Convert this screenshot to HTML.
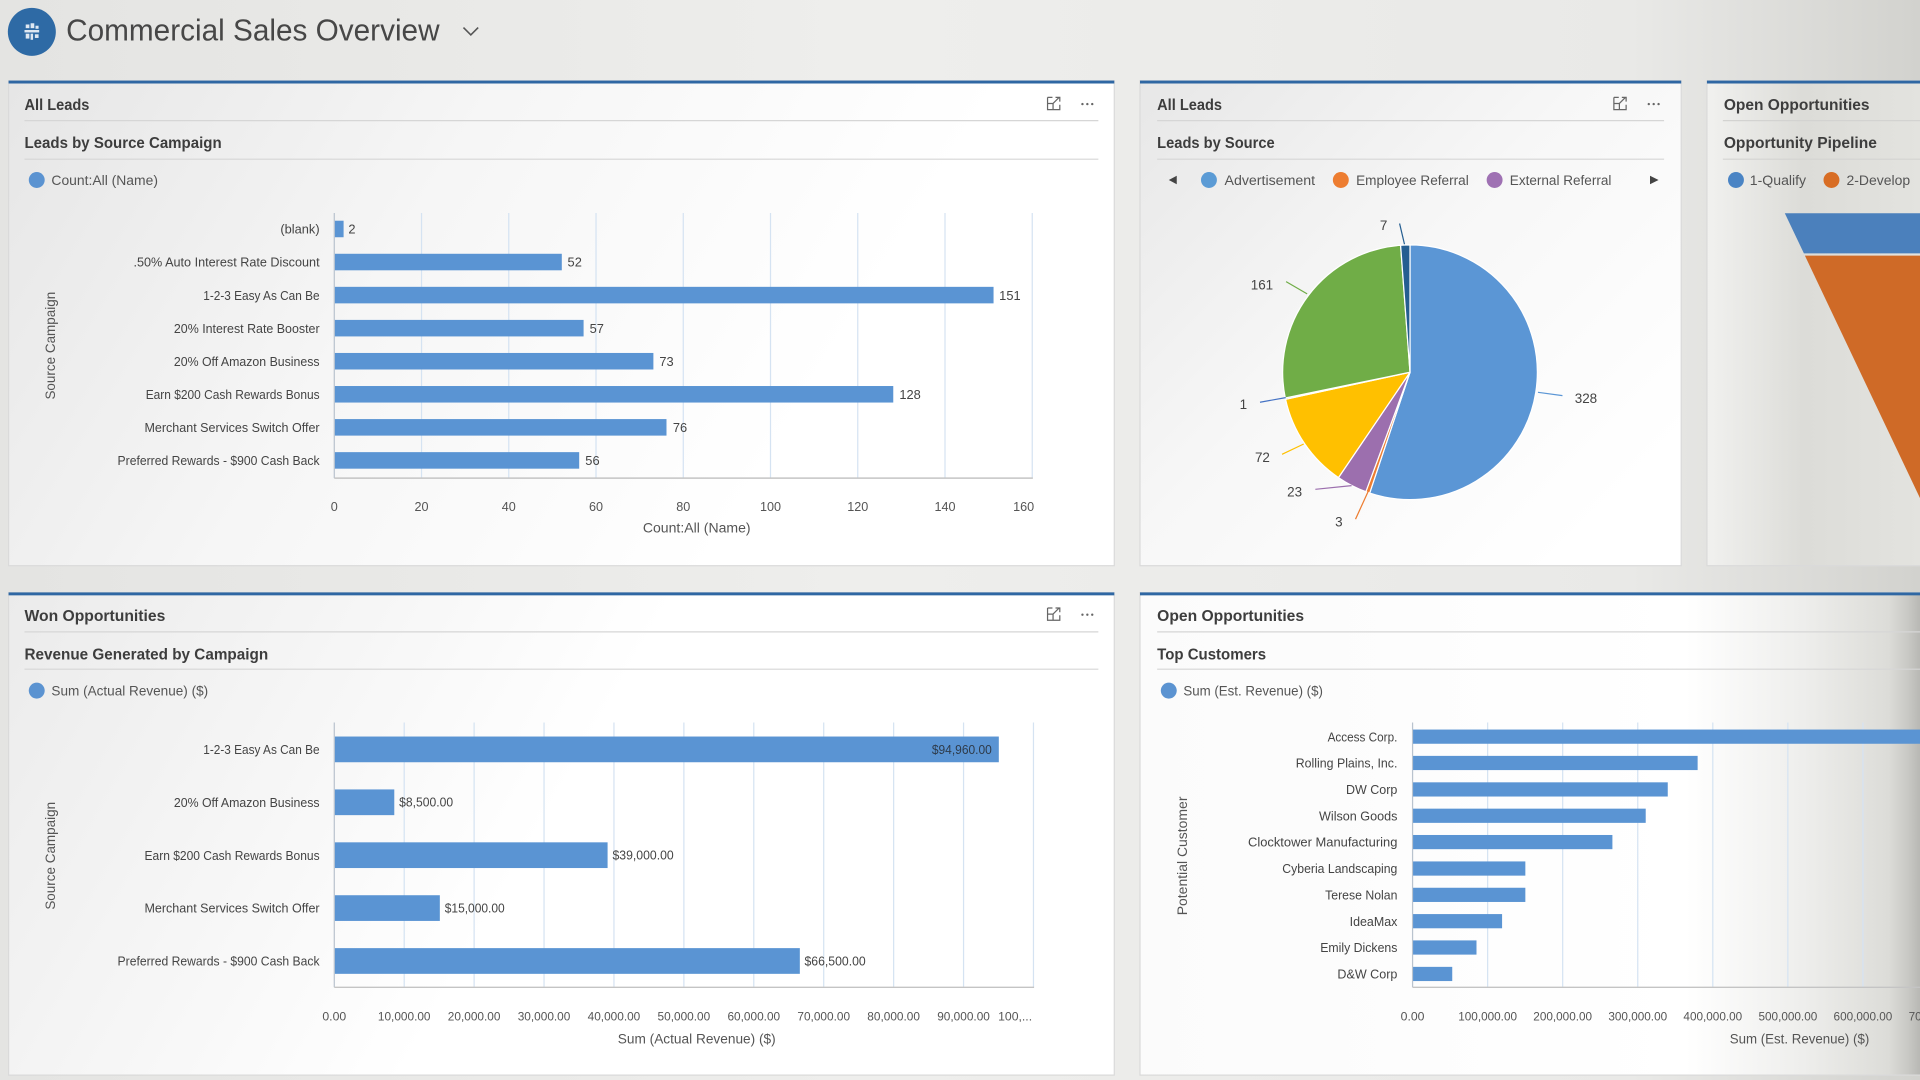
<!DOCTYPE html>
<html><head><meta charset="utf-8">
<style>
html,body{margin:0;padding:0;width:1920px;height:1080px;overflow:hidden;background:#e8e8e6;}
svg{display:block}
text{font-family:"Liberation Sans",sans-serif;}
.t{font-size:13px;font-weight:bold;fill:#3d3d3d}
.lg{font-size:11px;fill:#555}
.c{font-size:10.8px;fill:#444;text-anchor:end}
.k{font-size:10.3px;fill:#555;text-anchor:middle}
.kk{font-size:10px;fill:#555;text-anchor:middle}
.a{font-size:11px;fill:#555;text-anchor:middle}
.v{font-size:10.5px;fill:#444}
.pl{font-size:11px;fill:#444;text-anchor:middle}
.g{stroke:#d5e3f2;stroke-width:1}
</style></head><body>
<svg width="1920" height="1080" viewBox="0 0 1568 882" preserveAspectRatio="none">
<defs>
<linearGradient id="bg" x1="0" y1="0" x2="1" y2="0">
<stop offset="0" stop-color="#e4e4e2"/><stop offset="0.45" stop-color="#eeeeec"/><stop offset="0.85" stop-color="#e9e9e7"/><stop offset="1" stop-color="#d2d2ce"/>
</linearGradient>
<linearGradient id="gp1" gradientUnits="userSpaceOnUse" x1="7" y1="66" x2="600" y2="430">
<stop offset="0" stop-color="#e6e6e6"/><stop offset="0.5" stop-color="#f6f6f6"/><stop offset="1" stop-color="#ffffff"/>
</linearGradient>
<linearGradient id="gp2" gradientUnits="userSpaceOnUse" x1="931" y1="66" x2="1300" y2="430">
<stop offset="0" stop-color="#e7e7e7"/><stop offset="0.5" stop-color="#f7f7f7"/><stop offset="1" stop-color="#ffffff"/>
</linearGradient>
<linearGradient id="gp3" gradientUnits="userSpaceOnUse" x1="1394" y1="0" x2="1568" y2="0">
<stop offset="0" stop-color="#f1f1ef"/><stop offset="0.45" stop-color="#dcdcd8"/><stop offset="1" stop-color="#e3e3df"/>
</linearGradient>
<linearGradient id="gp4" gradientUnits="userSpaceOnUse" x1="7" y1="484" x2="420" y2="720">
<stop offset="0" stop-color="#ebebeb"/><stop offset="1" stop-color="#ffffff"/>
</linearGradient>
<linearGradient id="gp5" gradientUnits="userSpaceOnUse" x1="931" y1="0" x2="1568" y2="0">
<stop offset="0" stop-color="#fbfbfb"/><stop offset="0.7" stop-color="#ffffff"/><stop offset="0.85" stop-color="#eeeeec"/><stop offset="0.96" stop-color="#dcdcd8"/><stop offset="0.985" stop-color="#c8c8c4"/><stop offset="1" stop-color="#b8b8b4"/>
</linearGradient>
</defs>

<!-- page background -->
<rect x="0" y="0" width="1568" height="882" fill="url(#bg)"/>

<!-- header -->
<circle cx="26" cy="26" r="19.6" fill="#2e6aa5"/>
<g fill="#dfe8f2">
<rect x="21" y="20" width="3" height="3"/><rect x="25" y="19" width="3" height="4"/><rect x="29" y="21" width="2.5" height="2.5"/>
<rect x="20" y="24.5" width="12" height="2"/>
<rect x="21" y="27.5" width="3" height="4"/><rect x="25" y="27.5" width="2" height="5"/><rect x="28.5" y="28" width="3" height="3"/>
</g>
<text x="54" y="33.2" font-size="25" fill="#474747" textLength="305" lengthAdjust="spacingAndGlyphs">Commercial Sales Overview</text>
<polyline points="378.5,22.5 384.5,28.5 390.5,22.5" fill="none" stroke="#555" stroke-width="1.3"/>

<!-- ============ PANEL 1 ============ -->
<rect x="7" y="66" width="903" height="396" fill="url(#gp1)" stroke="#dadada" stroke-width="1"/>
<rect x="7" y="65.8" width="903" height="2.4" fill="#2f67a3"/>
<text class="t" x="20" y="89.8" textLength="53" lengthAdjust="spacingAndGlyphs">All Leads</text>
<line x1="20" y1="98.5" x2="897" y2="98.5" stroke="#d6d6d6"/>
<text class="t" x="20" y="121" textLength="161" lengthAdjust="spacingAndGlyphs">Leads by Source Campaign</text>
<line x1="20" y1="130" x2="897" y2="130" stroke="#d6d6d6"/>
<g stroke="#666" stroke-width="1" fill="none">
<path d="M855.5 79.5 v10 h10 v-4 M855.5 79.5 h4 M855.5 84.5 h4.5 v5 M860 84.5 l5 -5 M862 79.5 h3.5 v3.5"/>
</g>
<g fill="#666"><circle cx="884" cy="85" r="0.95"/><circle cx="888" cy="85" r="0.95"/><circle cx="892" cy="85" r="0.95"/></g>
<circle cx="30" cy="147" r="6.5" fill="#5b93d1"/>
<text class="lg" x="42" y="151" textLength="87" lengthAdjust="spacingAndGlyphs">Count:All (Name)</text>

<!-- chart 1 grid -->
<g class="g">
<line x1="344.25" y1="174" x2="344.25" y2="390"/><line x1="415.5" y1="174" x2="415.5" y2="390"/>
<line x1="486.75" y1="174" x2="486.75" y2="390"/><line x1="558" y1="174" x2="558" y2="390"/>
<line x1="629.25" y1="174" x2="629.25" y2="390"/><line x1="700.5" y1="174" x2="700.5" y2="390"/>
<line x1="771.75" y1="174" x2="771.75" y2="390"/><line x1="843" y1="174" x2="843" y2="390"/>
</g>
<line x1="273" y1="174" x2="273" y2="390.5" stroke="#b9c3ce" stroke-width="1"/>
<line x1="273" y1="390.5" x2="843.5" y2="390.5" stroke="#c4c4c4" stroke-width="1.2"/>
<g fill="#5a94d3">
<rect x="273.5" y="180.25" width="7.1" height="13.5"/>
<rect x="273.5" y="207.25" width="185.3" height="13.5"/>
<rect x="273.5" y="234.25" width="537.9" height="13.5"/>
<rect x="273.5" y="261.25" width="203.1" height="13.5"/>
<rect x="273.5" y="288.25" width="260.1" height="13.5"/>
<rect x="273.5" y="315.25" width="456" height="13.5"/>
<rect x="273.5" y="342.25" width="270.8" height="13.5"/>
<rect x="273.5" y="369.25" width="199.5" height="13.5"/>
</g>
<text class="c" x="261" y="190.8" textLength="32" lengthAdjust="spacingAndGlyphs">(blank)</text>
<text class="c" x="261" y="217.8" textLength="152" lengthAdjust="spacingAndGlyphs">.50% Auto Interest Rate Discount</text>
<text class="c" x="261" y="244.8" textLength="95" lengthAdjust="spacingAndGlyphs">1-2-3 Easy As Can Be</text>
<text class="c" x="261" y="271.8" textLength="119" lengthAdjust="spacingAndGlyphs">20% Interest Rate Booster</text>
<text class="c" x="261" y="298.8" textLength="119" lengthAdjust="spacingAndGlyphs">20% Off Amazon Business</text>
<text class="c" x="261" y="325.8" textLength="142" lengthAdjust="spacingAndGlyphs">Earn $200 Cash Rewards Bonus</text>
<text class="c" x="261" y="352.8" textLength="143" lengthAdjust="spacingAndGlyphs">Merchant Services Switch Offer</text>
<text class="c" x="261" y="379.8" textLength="165" lengthAdjust="spacingAndGlyphs">Preferred Rewards - $900 Cash Back</text>
<text class="v" x="284.5" y="190.8">2</text>
<text class="v" x="463.5" y="217.8">52</text>
<text class="v" x="816" y="244.8">151</text>
<text class="v" x="481.5" y="271.8">57</text>
<text class="v" x="538.5" y="298.8">73</text>
<text class="v" x="734.5" y="325.8">128</text>
<text class="v" x="549.5" y="352.8">76</text>
<text class="v" x="478" y="379.8">56</text>
<text class="k" x="273" y="417.5">0</text>
<text class="k" x="344.25" y="417.5">20</text>
<text class="k" x="415.5" y="417.5">40</text>
<text class="k" x="486.75" y="417.5">60</text>
<text class="k" x="558" y="417.5">80</text>
<text class="k" x="629.25" y="417.5">100</text>
<text class="k" x="700.5" y="417.5">120</text>
<text class="k" x="771.75" y="417.5">140</text>
<text class="k" x="836" y="417.5">160</text>
<text class="a" x="569" y="435" textLength="88" lengthAdjust="spacingAndGlyphs">Count:All (Name)</text>
<text class="a" transform="translate(45,282.3) rotate(-90)" textLength="88" lengthAdjust="spacingAndGlyphs">Source Campaign</text>

<!-- ============ PANEL 2 (pie) ============ -->
<rect x="931" y="66" width="442" height="396" fill="url(#gp2)" stroke="#dadada" stroke-width="1"/>
<rect x="931" y="65.8" width="442" height="2.4" fill="#2f67a3"/>
<text class="t" x="945" y="89.8" textLength="53" lengthAdjust="spacingAndGlyphs">All Leads</text>
<line x1="945" y1="98.5" x2="1359" y2="98.5" stroke="#d6d6d6"/>
<text class="t" x="945" y="121" textLength="96" lengthAdjust="spacingAndGlyphs">Leads by Source</text>
<line x1="945" y1="130" x2="1359" y2="130" stroke="#d6d6d6"/>
<g stroke="#666" stroke-width="1" fill="none">
<path d="M1318 79.5 v10 h10 v-4 M1318 79.5 h4 M1318 84.5 h4.5 v5 M1322.5 84.5 l5 -5 M1324.5 79.5 h3.5 v3.5"/>
</g>
<g fill="#666"><circle cx="1346.5" cy="85" r="0.95"/><circle cx="1350.5" cy="85" r="0.95"/><circle cx="1354.5" cy="85" r="0.95"/></g>
<polygon points="954.5,147 961,143.5 961,150.5" fill="#444"/>
<circle cx="987.3" cy="147" r="6.5" fill="#5b9bd5"/>
<text class="lg" x="1000" y="151" textLength="74" lengthAdjust="spacingAndGlyphs">Advertisement</text>
<circle cx="1095" cy="147" r="6.5" fill="#ed7d31"/>
<text class="lg" x="1107.5" y="151" textLength="92" lengthAdjust="spacingAndGlyphs">Employee Referral</text>
<circle cx="1220.6" cy="147" r="6.5" fill="#9f71b3"/>
<text class="lg" x="1233" y="151" textLength="83" lengthAdjust="spacingAndGlyphs">External Referral</text>
<polygon points="1347.5,143.5 1354.5,147 1347.5,150.5" fill="#444"/>

<!-- pie -->
<g stroke="#fff" stroke-width="1" stroke-linejoin="round">
<path d="M1151.5 304 L1151.5 200 A104 104 0 1 1 1118.58 402.65 Z" fill="#5b96d5"/>
<path d="M1151.5 304 L1118.58 402.65 A104 104 0 0 1 1115.47 401.56 Z" fill="#ed7d31"/>
<path d="M1151.5 304 L1115.47 401.56 A104 104 0 0 1 1093.07 390.04 Z" fill="#9c6fae"/>
<path d="M1151.5 304 L1093.07 390.04 A104 104 0 0 1 1049.87 326.07 Z" fill="#ffc000"/>
<path d="M1151.5 304 L1049.87 326.07 A104 104 0 0 1 1049.64 324.99 Z" fill="#4472c4"/>
<path d="M1151.5 304 L1049.64 324.99 A104 104 0 0 1 1143.82 200.28 Z" fill="#70ad47"/>
<path d="M1151.5 304 L1143.82 200.28 A104 104 0 0 1 1151.5 200 Z" fill="#255e91"/>
</g>
<g fill="none" stroke-width="1">
<line x1="1143" y1="182.5" x2="1147" y2="199.5" stroke="#255e91"/>
<line x1="1050.3" y1="230" x2="1067.5" y2="240" stroke="#70ad47"/>
<line x1="1029" y1="328.5" x2="1050" y2="324.7" stroke="#4472c4"/>
<line x1="1047" y1="371" x2="1064.7" y2="362.6" stroke="#ffc000"/>
<line x1="1074.2" y1="399.6" x2="1103.8" y2="396.6" stroke="#9c6fae"/>
<line x1="1107" y1="424" x2="1117.5" y2="401" stroke="#ed7d31"/>
<line x1="1256" y1="320.4" x2="1276" y2="323.1" stroke="#5b96d5"/>
</g>
<text class="pl" x="1130" y="188">7</text>
<text class="pl" x="1030.6" y="236.5">161</text>
<text class="pl" x="1015.4" y="334">1</text>
<text class="pl" x="1031" y="377.5">72</text>
<text class="pl" x="1057.3" y="405.6">23</text>
<text class="pl" x="1093.4" y="430">3</text>
<text class="pl" x="1295.2" y="329">328</text>

<!-- ============ PANEL 3 (funnel) ============ -->
<rect x="1394" y="66" width="180" height="396" fill="url(#gp3)" stroke="#dadada" stroke-width="1"/>
<rect x="1394" y="65.8" width="180" height="2.4" fill="#2f67a3"/>
<text class="t" x="1407.8" y="89.8" textLength="119" lengthAdjust="spacingAndGlyphs">Open Opportunities</text>
<line x1="1407" y1="98.5" x2="1568" y2="98.5" stroke="#d3d3d1"/>
<text class="t" x="1407.8" y="121" textLength="125" lengthAdjust="spacingAndGlyphs">Opportunity Pipeline</text>
<line x1="1407" y1="130" x2="1568" y2="130" stroke="#d3d3d1"/>
<circle cx="1417.7" cy="147" r="6.5" fill="#4a84c4"/>
<text class="lg" x="1429" y="151" textLength="46" lengthAdjust="spacingAndGlyphs">1-Qualify</text>
<circle cx="1495.7" cy="147" r="6.5" fill="#d86d24"/>
<text class="lg" x="1508" y="151" textLength="52" lengthAdjust="spacingAndGlyphs">2-Develop</text>
<polygon points="1457.6,174.2 1570,174.2 1570,206.9 1473.2,206.9" fill="#4b80bc"/>
<polygon points="1474,208.8 1570,208.8 1570,411" fill="#cf6a27"/>

<!-- ============ PANEL 4 ============ -->
<rect x="7" y="484" width="903" height="394" fill="url(#gp4)" stroke="#dadada" stroke-width="1"/>
<rect x="7" y="483.8" width="903" height="2.4" fill="#2f67a3"/>
<text class="t" x="20" y="507.3" textLength="115" lengthAdjust="spacingAndGlyphs">Won Opportunities</text>
<line x1="20" y1="516" x2="897" y2="516" stroke="#d6d6d6"/>
<text class="t" x="20" y="538.6" textLength="199" lengthAdjust="spacingAndGlyphs">Revenue Generated by Campaign</text>
<line x1="20" y1="546.5" x2="897" y2="546.5" stroke="#d6d6d6"/>
<g stroke="#666" stroke-width="1" fill="none">
<path d="M855.5 496.5 v10 h10 v-4 M855.5 496.5 h4 M855.5 501.5 h4.5 v5 M860 501.5 l5 -5 M862 496.5 h3.5 v3.5"/>
</g>
<g fill="#666"><circle cx="884" cy="502" r="0.95"/><circle cx="888" cy="502" r="0.95"/><circle cx="892" cy="502" r="0.95"/></g>
<circle cx="30" cy="564" r="6.5" fill="#5b93d1"/>
<text class="lg" x="42" y="568" textLength="128" lengthAdjust="spacingAndGlyphs">Sum (Actual Revenue) ($)</text>

<g class="g">
<line x1="330.1" y1="590" x2="330.1" y2="806"/><line x1="387.2" y1="590" x2="387.2" y2="806"/>
<line x1="444.3" y1="590" x2="444.3" y2="806"/><line x1="501.4" y1="590" x2="501.4" y2="806"/>
<line x1="558.5" y1="590" x2="558.5" y2="806"/><line x1="615.6" y1="590" x2="615.6" y2="806"/>
<line x1="672.7" y1="590" x2="672.7" y2="806"/><line x1="729.8" y1="590" x2="729.8" y2="806"/>
<line x1="786.9" y1="590" x2="786.9" y2="806"/><line x1="844" y1="590" x2="844" y2="806"/>
</g>
<line x1="273" y1="590" x2="273" y2="806.3" stroke="#b9c3ce" stroke-width="1"/>
<line x1="273" y1="806.3" x2="844.5" y2="806.3" stroke="#c4c4c4" stroke-width="1.2"/>
<g fill="#5a94d3">
<rect x="273.5" y="601.5" width="542.2" height="21"/>
<rect x="273.5" y="644.7" width="48.5" height="21"/>
<rect x="273.5" y="687.9" width="222.7" height="21"/>
<rect x="273.5" y="731.1" width="85.7" height="21"/>
<rect x="273.5" y="774.3" width="379.7" height="21"/>
</g>
<text class="c" x="261" y="615.8" textLength="95" lengthAdjust="spacingAndGlyphs">1-2-3 Easy As Can Be</text>
<text class="c" x="261" y="659" textLength="119" lengthAdjust="spacingAndGlyphs">20% Off Amazon Business</text>
<text class="c" x="261" y="702.2" textLength="143" lengthAdjust="spacingAndGlyphs">Earn $200 Cash Rewards Bonus</text>
<text class="c" x="261" y="745.4" textLength="143" lengthAdjust="spacingAndGlyphs">Merchant Services Switch Offer</text>
<text class="c" x="261" y="788.6" textLength="165" lengthAdjust="spacingAndGlyphs">Preferred Rewards - $900 Cash Back</text>
<text class="v" x="810" y="615.6" text-anchor="end" fill="#2e3b4a" style="fill:#2e3b4a" textLength="49" lengthAdjust="spacingAndGlyphs">$94,960.00</text>
<text class="v" x="326" y="658.8" textLength="44" lengthAdjust="spacingAndGlyphs">$8,500.00</text>
<text class="v" x="500.2" y="702" textLength="50" lengthAdjust="spacingAndGlyphs">$39,000.00</text>
<text class="v" x="363.2" y="745.2" textLength="49" lengthAdjust="spacingAndGlyphs">$15,000.00</text>
<text class="v" x="657" y="788.4" textLength="50" lengthAdjust="spacingAndGlyphs">$66,500.00</text>
<text class="kk" x="273" y="833.6">0.00</text>
<text class="kk" x="330.1" y="833.6" textLength="43" lengthAdjust="spacingAndGlyphs">10,000.00</text>
<text class="kk" x="387.2" y="833.6" textLength="43" lengthAdjust="spacingAndGlyphs">20,000.00</text>
<text class="kk" x="444.3" y="833.6" textLength="43" lengthAdjust="spacingAndGlyphs">30,000.00</text>
<text class="kk" x="501.4" y="833.6" textLength="43" lengthAdjust="spacingAndGlyphs">40,000.00</text>
<text class="kk" x="558.5" y="833.6" textLength="43" lengthAdjust="spacingAndGlyphs">50,000.00</text>
<text class="kk" x="615.6" y="833.6" textLength="43" lengthAdjust="spacingAndGlyphs">60,000.00</text>
<text class="kk" x="672.7" y="833.6" textLength="43" lengthAdjust="spacingAndGlyphs">70,000.00</text>
<text class="kk" x="729.8" y="833.6" textLength="43" lengthAdjust="spacingAndGlyphs">80,000.00</text>
<text class="kk" x="786.9" y="833.6" textLength="43" lengthAdjust="spacingAndGlyphs">90,000.00</text>
<text class="kk" x="829" y="833.6">100,...</text>
<text class="a" x="569" y="852" textLength="129" lengthAdjust="spacingAndGlyphs">Sum (Actual Revenue) ($)</text>
<text class="a" transform="translate(45,698.9) rotate(-90)" textLength="88" lengthAdjust="spacingAndGlyphs">Source Campaign</text>

<!-- ============ PANEL 5 ============ -->
<rect x="931" y="484" width="640" height="394" fill="url(#gp5)" stroke="#dadada" stroke-width="1"/>
<rect x="931" y="483.8" width="640" height="2.4" fill="#2f67a3"/>
<text class="t" x="945" y="507.3" textLength="120" lengthAdjust="spacingAndGlyphs">Open Opportunities</text>
<line x1="945" y1="516" x2="1568" y2="516" stroke="#d6d6d6"/>
<text class="t" x="945" y="538.6" textLength="89" lengthAdjust="spacingAndGlyphs">Top Customers</text>
<line x1="945" y1="546.5" x2="1568" y2="546.5" stroke="#d6d6d6"/>
<circle cx="954.5" cy="564" r="6.5" fill="#5b93d1"/>
<text class="lg" x="966.4" y="568" textLength="114" lengthAdjust="spacingAndGlyphs">Sum (Est. Revenue) ($)</text>

<g class="g">
<line x1="1214.9" y1="590" x2="1214.9" y2="806"/><line x1="1276.2" y1="590" x2="1276.2" y2="806"/>
<line x1="1337.5" y1="590" x2="1337.5" y2="806"/><line x1="1398.8" y1="590" x2="1398.8" y2="806"/>
<line x1="1460.1" y1="590" x2="1460.1" y2="806"/><line x1="1521.4" y1="590" x2="1521.4" y2="806"/>
</g>
<line x1="1153.6" y1="590" x2="1153.6" y2="806.3" stroke="#b9c3ce" stroke-width="1"/>
<line x1="1153.6" y1="806.3" x2="1568" y2="806.3" stroke="#c4c4c4" stroke-width="1.2"/>
<g fill="#5a94d3">
<rect x="1154" y="595.8" width="416" height="11.6"/>
<rect x="1154" y="617.3" width="232.4" height="11.6"/>
<rect x="1154" y="638.9" width="208" height="11.6"/>
<rect x="1154" y="660.4" width="190" height="11.6"/>
<rect x="1154" y="681.9" width="162.8" height="11.6"/>
<rect x="1154" y="703.5" width="91.7" height="11.6"/>
<rect x="1154" y="725" width="91.7" height="11.6"/>
<rect x="1154" y="746.5" width="72.7" height="11.6"/>
<rect x="1154" y="768" width="51.8" height="11.6"/>
<rect x="1154" y="789.6" width="32" height="11.6"/>
</g>
<text class="c" x="1141.2" y="605.4" textLength="57" lengthAdjust="spacingAndGlyphs">Access Corp.</text>
<text class="c" x="1141.2" y="626.9" textLength="83" lengthAdjust="spacingAndGlyphs">Rolling Plains, Inc.</text>
<text class="c" x="1141.2" y="648.5" textLength="42" lengthAdjust="spacingAndGlyphs">DW Corp</text>
<text class="c" x="1141.2" y="670" textLength="64" lengthAdjust="spacingAndGlyphs">Wilson Goods</text>
<text class="c" x="1141.2" y="691.5" textLength="122" lengthAdjust="spacingAndGlyphs">Clocktower Manufacturing</text>
<text class="c" x="1141.2" y="713.1" textLength="94" lengthAdjust="spacingAndGlyphs">Cyberia Landscaping</text>
<text class="c" x="1141.2" y="734.6" textLength="59" lengthAdjust="spacingAndGlyphs">Terese Nolan</text>
<text class="c" x="1141.2" y="756.1" textLength="39" lengthAdjust="spacingAndGlyphs">IdeaMax</text>
<text class="c" x="1141.2" y="777.6" textLength="63" lengthAdjust="spacingAndGlyphs">Emily Dickens</text>
<text class="c" x="1141.2" y="799.2" textLength="49" lengthAdjust="spacingAndGlyphs">D&amp;W Corp</text>
<text class="kk" x="1153.6" y="833.6">0.00</text>
<text class="kk" x="1214.9" y="833.6" textLength="48" lengthAdjust="spacingAndGlyphs">100,000.00</text>
<text class="kk" x="1276.2" y="833.6" textLength="48" lengthAdjust="spacingAndGlyphs">200,000.00</text>
<text class="kk" x="1337.5" y="833.6" textLength="48" lengthAdjust="spacingAndGlyphs">300,000.00</text>
<text class="kk" x="1398.8" y="833.6" textLength="48" lengthAdjust="spacingAndGlyphs">400,000.00</text>
<text class="kk" x="1460.1" y="833.6" textLength="48" lengthAdjust="spacingAndGlyphs">500,000.00</text>
<text class="kk" x="1521.4" y="833.6" textLength="48" lengthAdjust="spacingAndGlyphs">600,000.00</text>
<text class="kk" x="1582.7" y="833.6" textLength="48" lengthAdjust="spacingAndGlyphs">700,000.00</text>
<text class="a" x="1469.6" y="852" textLength="114" lengthAdjust="spacingAndGlyphs">Sum (Est. Revenue) ($)</text>
<text class="a" transform="translate(969.5,699) rotate(-90)" textLength="97" lengthAdjust="spacingAndGlyphs">Potential Customer</text>
</svg>
</body></html>
